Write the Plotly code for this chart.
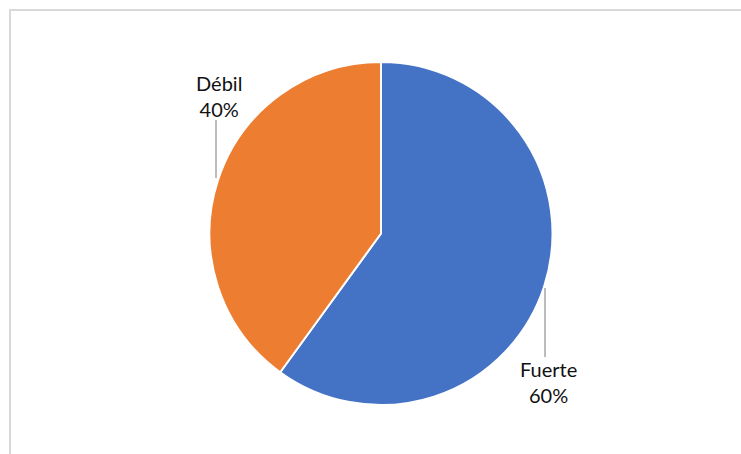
import plotly.graph_objects as go

# Data
labels = ["Fuerte", "Débil"]
values = [60, 40]
colors = ["#4472C4", "#ED7D31"]

W, H = 741, 454
total = sum(values)
pct = {lab: round(100 * v / total) for lab, v in zip(labels, values)}


def px(x):
    return x / W


def py(y):
    return 1 - y / H


cx, cy, r = 381, 233.5, 171.5

fig = go.Figure(
    go.Pie(
        labels=labels,
        values=values,
        sort=False,
        direction="clockwise",
        rotation=0,
        marker=dict(colors=colors, line=dict(color="white", width=2)),
        textinfo="none",
        hoverinfo="label+percent",
        showlegend=False,
        domain=dict(x=[px(cx - r), px(cx + r)], y=[py(cy + r), py(cy - r)]),
    )
)

font = dict(family="Lato, Carlito, Calibri, sans-serif", size=20, color="#111111")

# Outside labels with vertical leader lines
label_pos = {"Débil": (219, 96), "Fuerte": (548, 382)}
leader = {"Débil": (216, 120, 178), "Fuerte": (545, 288, 357)}

annotations = []
shapes = []
for lab in labels:
    x, y = label_pos[lab]
    annotations.append(
        dict(
            x=px(x), y=py(y), xref="paper", yref="paper",
            text=f"{lab}<br>{pct[lab]}%", showarrow=False,
            xanchor="center", yanchor="middle", align="center", font=font,
        )
    )
    lx, ly0, ly1 = leader[lab]
    shapes.append(
        dict(type="line", xref="paper", yref="paper",
             x0=px(lx), x1=px(lx), y0=py(ly0), y1=py(ly1),
             line=dict(color="#A6A6A6", width=1.5))
    )

# Chart area border
shapes.append(
    dict(type="rect", xref="paper", yref="paper",
         x0=px(10), x1=px(W + 20), y0=py(H + 20), y1=py(10),
         line=dict(color="#D9D9D9", width=2), fillcolor="rgba(0,0,0,0)")
)

fig.update_layout(
    width=W, height=H,
    margin=dict(l=0, r=0, t=0, b=0),
    paper_bgcolor="white", plot_bgcolor="white",
    annotations=annotations, shapes=shapes,
)

fig.write_html("out.html")
